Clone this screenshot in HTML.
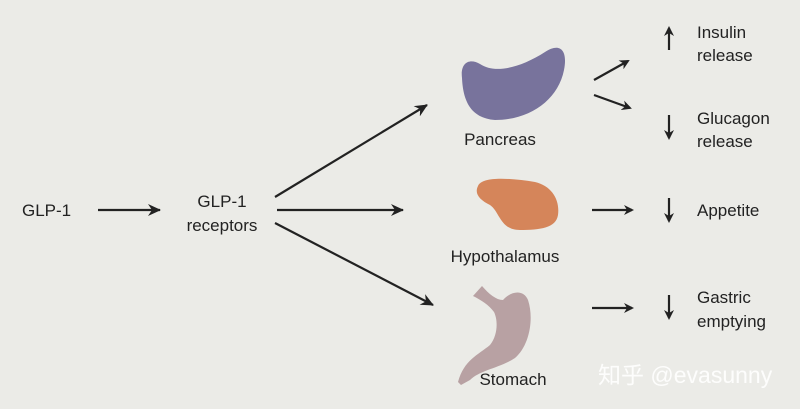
<!DOCTYPE html>
<html><head><meta charset="utf-8"><style>
body{margin:0;background:#ebebe7;}
svg{display:block}
text{font-family:"Liberation Sans","Noto Sans CJK SC",sans-serif;font-size:17px;fill:#222;}
</style></head><body>
<svg width="800" height="409" viewBox="0 0 800 409">
<defs><marker id="a" markerWidth="10" markerHeight="10" refX="8" refY="5" orient="auto" markerUnits="userSpaceOnUse"><path d="M0,0 L10,5 L0,10 L3,5 Z" fill="#222"/></marker>
<marker id="b" markerWidth="14" markerHeight="12" refX="12" refY="6" orient="auto" markerUnits="userSpaceOnUse"><path d="M0,0 L13,6 L0,12 L4,6 Z" fill="#222"/></marker></defs>
<rect width="800" height="409" fill="#ebebe7"/>
<g stroke="#222" stroke-width="2.2" fill="none">
<line x1="98" y1="210" x2="160" y2="210" marker-end="url(#b)"/>
<line x1="275" y1="197" x2="427" y2="105" marker-end="url(#b)"/>
<line x1="277" y1="210" x2="403" y2="210" marker-end="url(#b)"/>
<line x1="275" y1="223" x2="433" y2="305" marker-end="url(#b)"/>
<line x1="594" y1="80" x2="628" y2="61" marker-end="url(#a)"/>
<line x1="594" y1="95" x2="630" y2="108" marker-end="url(#a)"/>
<line x1="592" y1="210" x2="632" y2="210" marker-end="url(#a)"/>
<line x1="592" y1="308" x2="632" y2="308" marker-end="url(#a)"/>
<line x1="669" y1="50" x2="669" y2="28" marker-end="url(#a)"/>
<line x1="669" y1="115" x2="669" y2="138" marker-end="url(#a)"/>
<line x1="669" y1="198" x2="669" y2="221" marker-end="url(#a)"/>
<line x1="669" y1="295" x2="669" y2="318" marker-end="url(#a)"/>
</g>
<path d="M462,78 C460,62 470,58 480,64 C495,74 520,68 545,52 C560,42 568,50 564,70 C558,100 530,120 495,120 C470,118 463,100 462,78 Z" fill="#78739c"/>
<path d="M478,186 C482,176 510,178 535,182 C552,186 560,200 558,215 C556,228 540,230 520,230 C500,230 500,212 490,205 C480,200 474,194 478,186 Z" fill="#d5855a"/>
<path d="M473,296 L482,286 C489,294 496,300 503,300 C512,290 524,290 528,300 C534,318 530,345 515,358 C500,368 480,370 470,380 L461,385 L458,382 C464,360 478,355 490,345 C498,335 498,320 494,312 C489,305 481,300 473,296 Z" fill="#b8a1a3"/>
<text x="22" y="216">GLP-1</text>
<text x="222" y="207" text-anchor="middle">GLP-1</text>
<text x="222" y="231" text-anchor="middle">receptors</text>
<text x="500" y="145" text-anchor="middle">Pancreas</text>
<text x="505" y="262" text-anchor="middle">Hypothalamus</text>
<text x="513" y="385" text-anchor="middle">Stomach</text>
<text x="697" y="38">Insulin</text>
<text x="697" y="61">release</text>
<text x="697" y="124">Glucagon</text>
<text x="697" y="147">release</text>
<text x="697" y="216">Appetite</text>
<text x="697" y="303">Gastric</text>
<text x="697" y="327">emptying</text>
<text x="598" y="383" style="fill:#fff;font-size:23px;opacity:.9">知乎 @evasunny</text>
</svg>
</body></html>
